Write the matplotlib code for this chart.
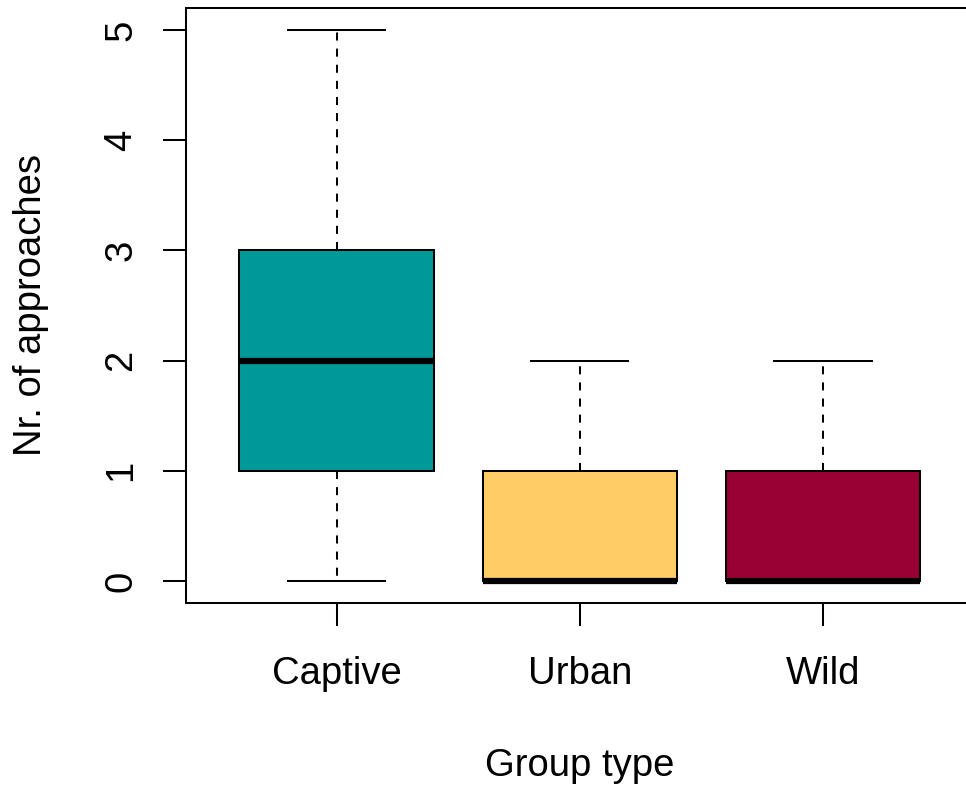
import matplotlib
matplotlib.use("Agg")
import matplotlib.pyplot as plt

plt.rcParams['font.family'] = ['Liberation Sans', 'DejaVu Sans']

# Data
groups = ["Captive", "Urban", "Wild"]
whislo = [0, 0, 0]
q1 = [1, 0, 0]
med = [2, 0, 0]
q3 = [3, 1, 1]
whishi = [5, 2, 2]
colors = ["#009999", "#FFCC66", "#990033"]

stats = []
for i in range(len(groups)):
    stats.append(dict(label=groups[i], whislo=whislo[i], q1=q1[i], med=med[i],
                      q3=q3[i], whishi=whishi[i], fliers=[]))

fig = plt.figure(figsize=(9.66, 7.9), dpi=100)
# axes spills a little past the right edge, like the cropped original
ax = fig.add_axes([186/966, (790-603)/790, (973.7-186)/966, (603-8)/790])

lw = 1.45
fs = 27.5
bp = ax.bxp(stats, positions=[1, 2, 3], widths=0.8, capwidths=0.4,
            patch_artist=True, showfliers=False,
            boxprops=dict(linewidth=lw, edgecolor='black'),
            whiskerprops=dict(linewidth=lw, linestyle=(0, (4, 4)), color='black'),
            capprops=dict(linewidth=lw, color='black'),
            medianprops=dict(linewidth=4.5, color='black', solid_capstyle='butt'))
for patch, c in zip(bp['boxes'], colors):
    patch.set_facecolor(c)

ax.set_xlim(0.38, 3.62)
ax.set_ylim(-0.2, 5.2)
ax.set_yticks([0, 1, 2, 3, 4, 5])
ax.set_xticks([1, 2, 3])
ax.set_xticklabels(groups)

for s in ax.spines.values():
    s.set_linewidth(lw)
ax.tick_params(axis='both', length=16.5, width=lw, labelsize=fs)
ax.tick_params(axis='x', pad=22)
ax.tick_params(axis='y', pad=17)
for lab in ax.get_yticklabels():
    lab.set_rotation(90)
    lab.set_va('center')

fig.text(580/966, 1 - 766/790, "Group type", fontsize=fs, ha='center', va='center')
fig.text(31/966, 1 - 305/790, "Nr. of approaches", fontsize=fs, ha='center',
         va='center', rotation=90)

fig.savefig("out.png", dpi=100)
